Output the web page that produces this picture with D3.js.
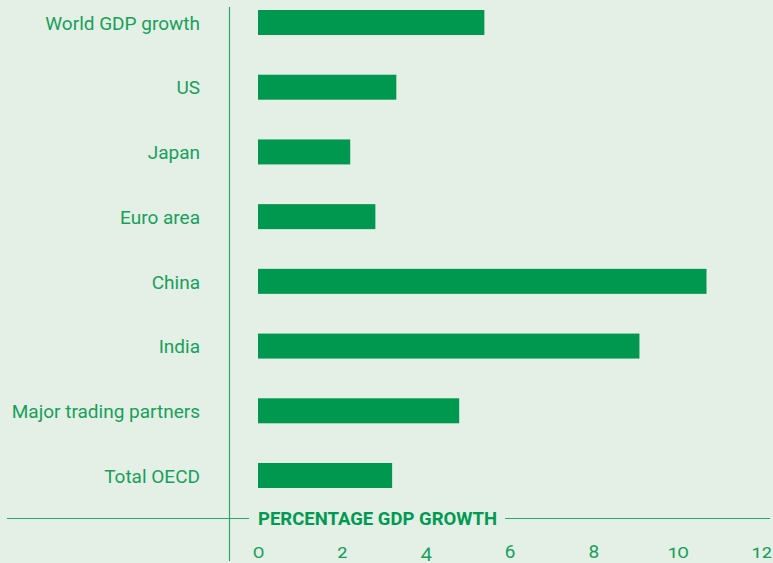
<!DOCTYPE html>
<html>
<head>
<meta charset="utf-8">
<script src="https://cdn.jsdelivr.net/npm/d3@7"></script>
<style>
  html, body { margin: 0; padding: 0; background: #e4efe5; }
  svg { display: block; }
  text { font-family: Roboto, "Open Sans", sans-serif; fill: #17a05c; }
</style>
</head>
<body>
<div id="chart"></div>
<script>
// GDP growth by economy, percent
const categories = ["World GDP growth", "US", "Japan", "Euro area", "China", "India", "Major trading partners", "Total OECD"];
const growth = [5.4, 3.3, 2.2, 2.8, 10.7, 9.1, 4.8, 3.2];
const tickValues = [0, 2, 4, 6, 8, 10, 12];
const axisTitle = "PERCENTAGE GDP GROWTH";

const W = 773, H = 563;
const barColor = "#00984f";
const lineColor = "#2aa866";

const svg = d3.select("#chart").append("svg")
  .attr("width", W).attr("height", H);

svg.append("rect").attr("width", W).attr("height", H).attr("fill", "#e4efe5");

const x = d3.scaleLinear().domain([0, 12]).range([258, 761]);
const y = d3.scaleBand().domain(categories).range([10, 488]).paddingInner(0.6137).paddingOuter(0);

// bars
svg.append("g").selectAll("rect")
  .data(categories)
  .join("rect")
  .attr("x", x(0))
  .attr("y", d => y(d))
  .attr("width", (d, i) => x(growth[i]) - x(0))
  .attr("height", y.bandwidth())
  .attr("fill", barColor);

// category labels
svg.append("g").selectAll("text")
  .data(categories)
  .join("text")
  .attr("x", 200)
  .attr("y", d => y(d) + y.bandwidth() / 2)
  .attr("dy", "0.38em")
  .attr("text-anchor", "end")
  .style("font-size", "19px")
  .text(d => d);

// vertical divider
svg.append("line")
  .attr("x1", 229.5).attr("x2", 229.5)
  .attr("y1", 7).attr("y2", 561)
  .attr("stroke", lineColor).attr("stroke-width", 1.2);

// axis title with rule either side
const title = svg.append("text")
  .attr("x", x(0))
  .attr("y", 525)
  .style("font-size", "18.5px")
  .style("font-weight", "bold")
  .style("fill", "#009a52")
  .text(axisTitle);
const tw = title.node().getComputedTextLength();

svg.append("line")
  .attr("x1", 7).attr("x2", x(0) - 9)
  .attr("y1", 518.5).attr("y2", 518.5)
  .attr("stroke", lineColor).attr("stroke-width", 1.2);
svg.append("line")
  .attr("x1", x(0) + tw + 8).attr("x2", 770)
  .attr("y1", 518.5).attr("y2", 518.5)
  .attr("stroke", lineColor).attr("stroke-width", 1.2);

// tick labels
const axis = d3.axisBottom(x).tickValues(tickValues).tickSize(0).tickPadding(0).tickFormat(d3.format("d"));
const gAxis = svg.append("g").attr("transform", "translate(0,558)").call(axis);
gAxis.select(".domain").remove();
gAxis.selectAll("text")
  .attr("y", 0)
  .attr("dy", "0")
  .style("font-family", "Roboto, 'Open Sans', sans-serif")
  .style("font-size", "19px")
  .style("font-variant-numeric", "oldstyle-nums")
  .style("fill", "#17a05c");
</script>
</body>
</html>
